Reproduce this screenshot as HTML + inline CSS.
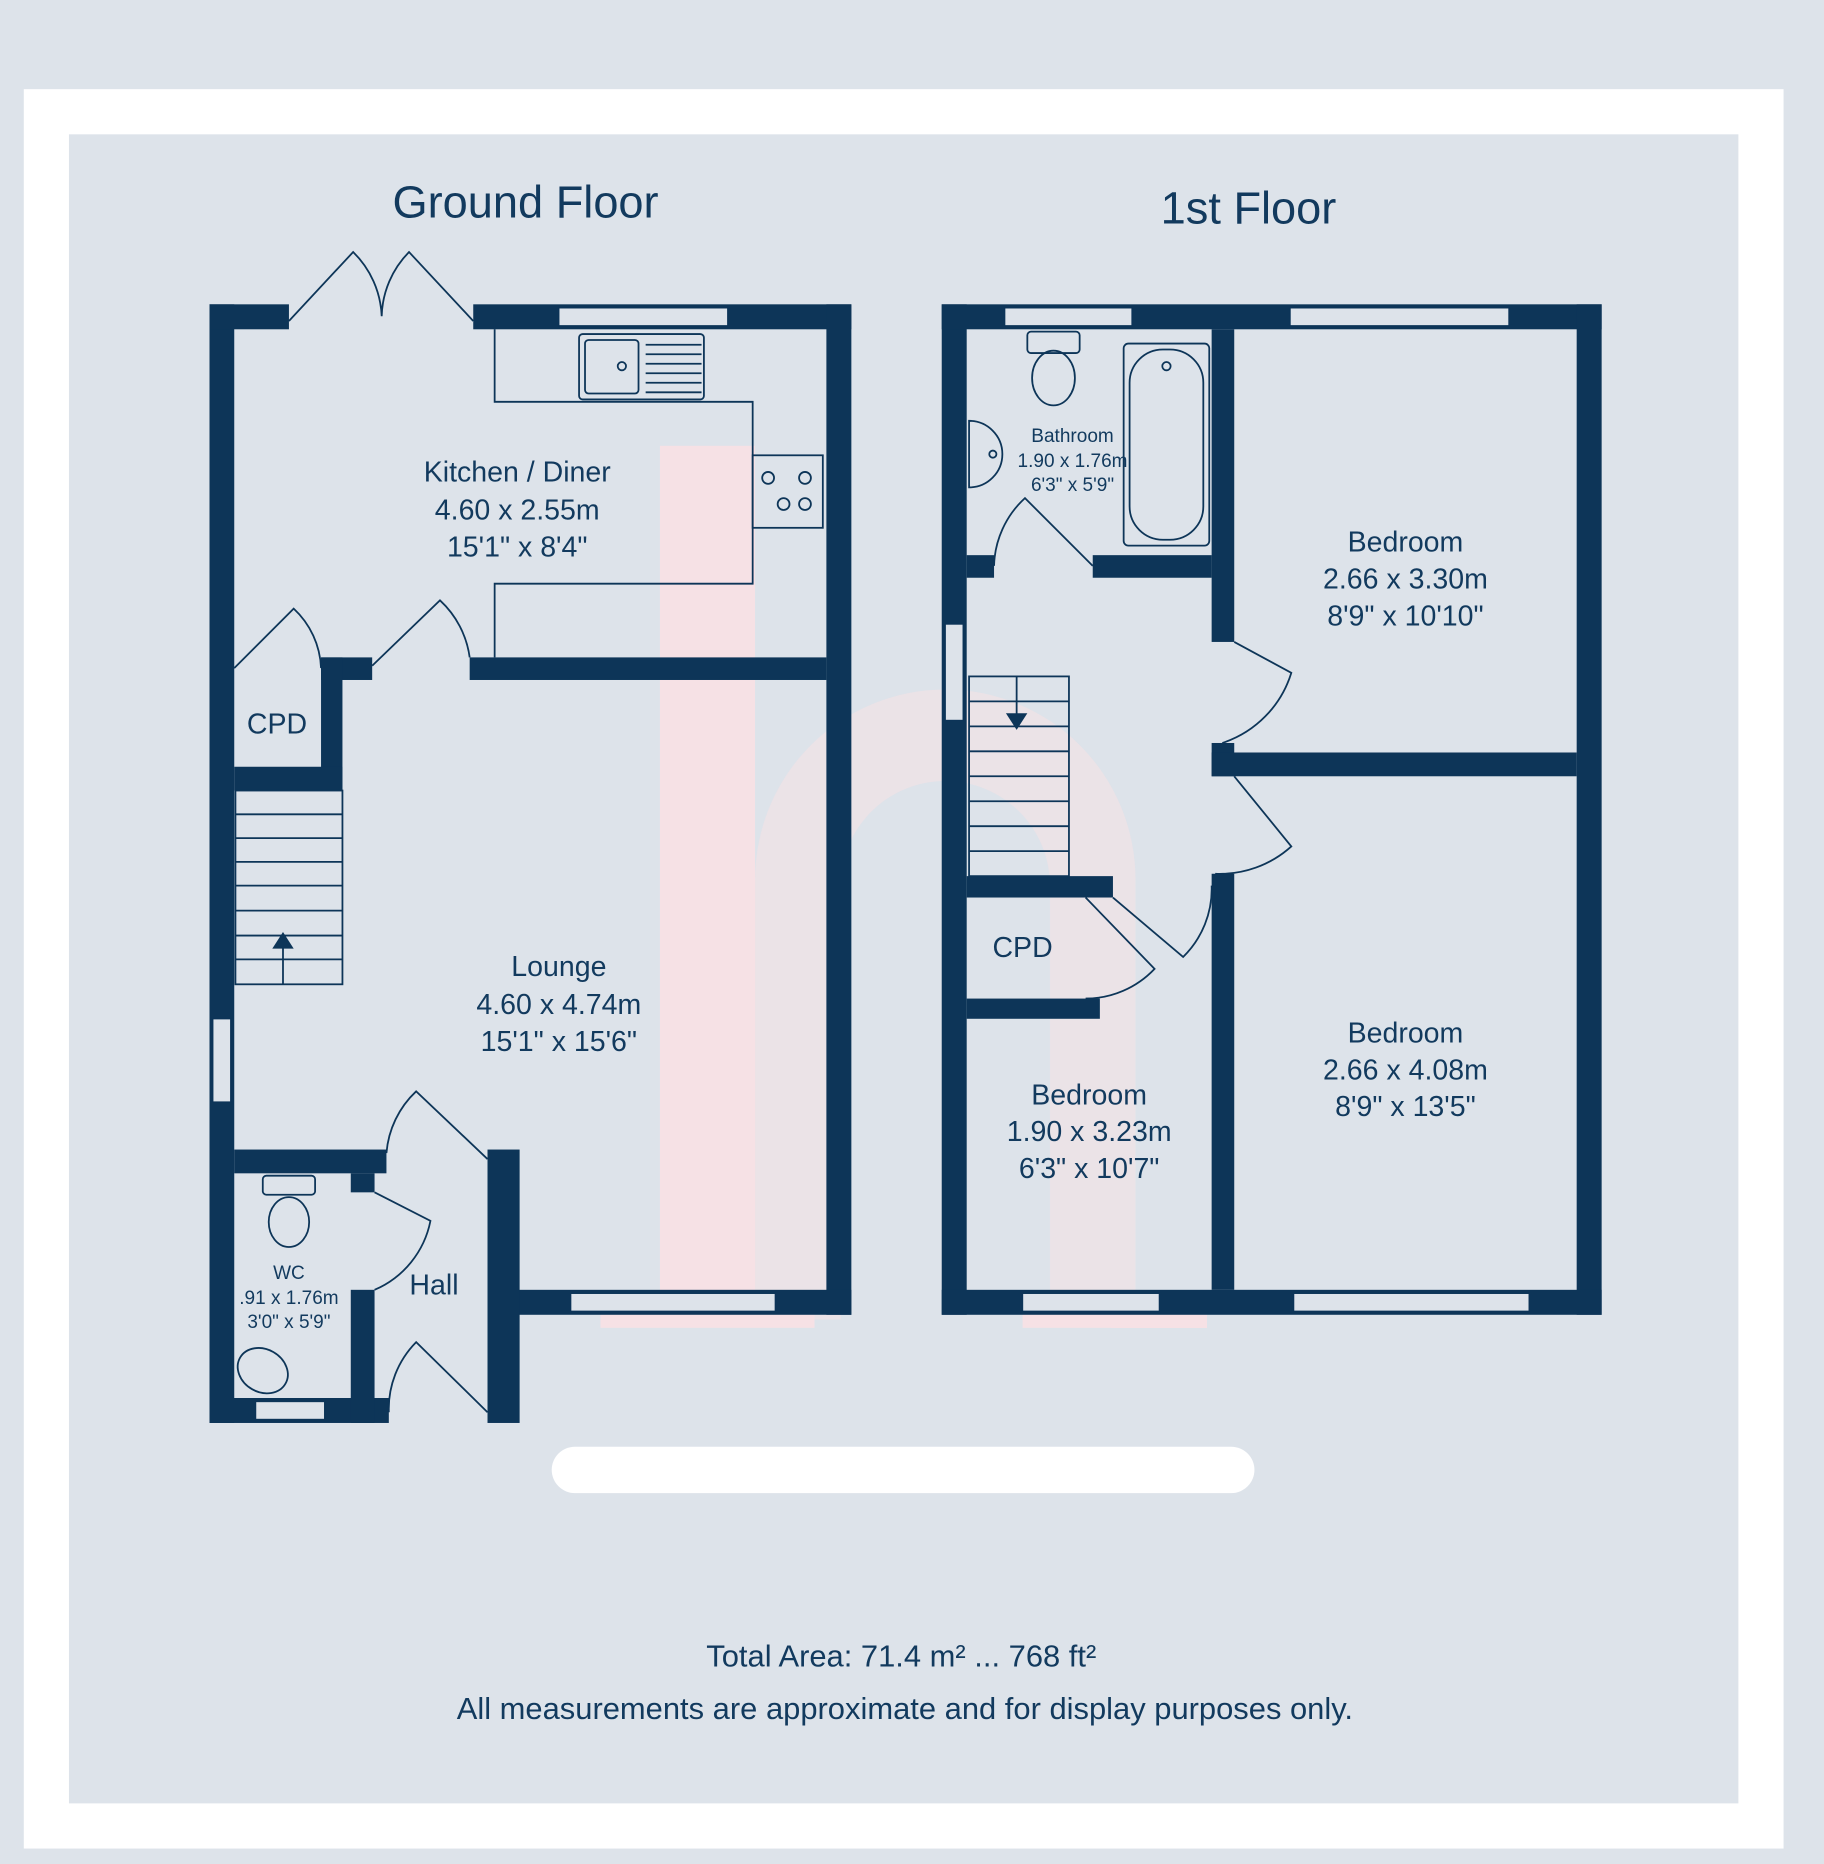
<!DOCTYPE html>
<html><head><meta charset="utf-8"><style>
html,body{margin:0;padding:0;background:#dde3ea}
svg{display:block}
text{font-family:"Liberation Sans",sans-serif;fill:#123a5e}
</style></head><body>
<svg width="1824" height="1864" viewBox="0 0 1534 1568" preserveAspectRatio="none" xmlns="http://www.w3.org/2000/svg">
<rect width="1534" height="1568" fill="#dde3ea"/>
<rect x="20" y="75" width="1480" height="1480" fill="#fff"/>
<rect x="58" y="113" width="1404" height="1404" fill="#dde3ea"/>
<!-- watermark -->
<g fill="#fbe1e4" opacity="0.85">
<rect x="555" y="375" width="80" height="735"/>
<path d="M635 740 A160 160 0 0 1 955 740 L955 1110 L883 1110 L883 745 A88 88 0 0 0 707 745 L707 1110 L635 1110 Z" opacity="0.55"/>
<rect x="505" y="1085" width="180" height="32"/>
<rect x="860" y="1085" width="155" height="32"/>
</g>
<text x="442" y="183" font-size="38" text-anchor="middle">Ground Floor</text>
<text x="1050" y="188" font-size="38" text-anchor="middle">1st Floor</text>
<g fill="#0d3558">
<rect x="176" y="256" width="21" height="941"/>
<rect x="176" y="256" width="67" height="21"/>
<rect x="398" y="256" width="318" height="21"/>
<rect x="695" y="256" width="21" height="850"/>
<rect x="433" y="1085" width="283" height="21"/>
<rect x="410" y="967" width="27" height="230"/>
<rect x="176" y="1176" width="151" height="21"/>
<rect x="395" y="553" width="300" height="19"/>
<rect x="270" y="553" width="43" height="19"/>
<rect x="270" y="553" width="18" height="112"/>
<rect x="197" y="645" width="91" height="20"/>
<rect x="197" y="967" width="128" height="20"/>
<rect x="295" y="987" width="20" height="16"/>
<rect x="295" y="1085" width="20" height="112"/>
<rect x="792" y="256" width="21" height="850"/>
<rect x="792" y="256" width="555" height="21"/>
<rect x="1326" y="256" width="21" height="850"/>
<rect x="792" y="1085" width="555" height="21"/>
<rect x="1019" y="277" width="19" height="263"/>
<rect x="1019" y="625" width="19" height="28"/>
<rect x="1019" y="735" width="19" height="350"/>
<rect x="1019" y="633" width="307" height="20"/>
<rect x="813" y="467" width="23" height="19"/>
<rect x="919" y="467" width="100" height="19"/>
<rect x="813" y="737" width="123" height="18"/>
<rect x="813" y="840" width="112" height="17"/>
</g>
<g fill="#dde3ea" stroke="#0d3558" stroke-width="1">
<rect x="470" y="259" width="142" height="15"/>
<rect x="480" y="1088" width="172" height="15"/>
<rect x="179" y="857" width="15" height="70"/>
<rect x="215" y="1179" width="58" height="15"/>
<rect x="845" y="259" width="107" height="15"/>
<rect x="1085" y="259" width="184" height="15"/>
<rect x="860" y="1088" width="115" height="15"/>
<rect x="1088" y="1088" width="198" height="15"/>
<rect x="795" y="525" width="15" height="81"/>
</g>
<g fill="none" stroke="#0d3558" stroke-width="1.5">
<path d="M416 277 V338 H633 V491 H416 V553"/>
<rect x="633" y="383" width="59" height="61"/>
<circle cx="646" cy="402" r="5"/><circle cx="677" cy="402" r="5"/>
<circle cx="659" cy="424" r="5"/><circle cx="677" cy="424" r="5"/>
<rect x="487" y="281" width="105" height="55" rx="3"/>
<rect x="492" y="286" width="45" height="45" rx="3"/>
<circle cx="523" cy="308" r="3.5"/>
<path d="M543 290H590M543 298H590M543 306H590M543 314H590M543 322H590M543 330H590"/>
<rect x="198" y="665" width="90" height="163"/>
<path d="M198 685H288M198 705H288M198 725H288M198 745H288M198 766H288M198 787H288M198 807H288"/>
<path d="M238 828V790"/>
<rect x="815" y="569" width="84" height="168"/>
<path d="M815 590H899M815 611H899M815 632H899M815 653H899M815 674H899M815 695H899M815 716H899"/>
<path d="M855 569V608"/>
<rect x="221" y="989" width="44" height="16" rx="3"/>
<ellipse cx="243" cy="1028" rx="17" ry="21"/>
<ellipse cx="221" cy="1153" rx="22" ry="18" transform="rotate(30 221 1153)"/>
<rect x="864" y="279" width="44" height="18" rx="3"/>
<ellipse cx="886" cy="318" rx="18" ry="23"/>
<rect x="945" y="289" width="72" height="170" rx="4"/>
<rect x="950" y="294" width="62" height="160" rx="28"/>
<circle cx="981" cy="308" r="3.5"/>
<path d="M815 354 A28 28 0 0 1 815 410 Z"/>
<circle cx="835" cy="382" r="3"/>
<path d="M243 270 L297 212 A80 80 0 0 1 321 266 M398 270 L344 212 A80 80 0 0 0 321 266"/>
<path d="M313 560 L370 505 A80 80 0 0 1 395 553"/>
<path d="M197 562 L247 512 A72 72 0 0 1 270 562"/>
<path d="M410 975 L350 918 A80 80 0 0 0 325 970"/>
<path d="M315 1003 L362 1027 A80 80 0 0 1 315 1085"/>
<path d="M410 1188 L350 1129 A80 80 0 0 0 327 1188"/>
<path d="M919 476 L862 419 A80 80 0 0 0 836 476"/>
<path d="M1038 540 L1086 566 A90 90 0 0 1 1028 625"/>
<path d="M1038 653 L1086 712 A90 90 0 0 1 1022 735"/>
<path d="M936 755 L995 805 A80 80 0 0 0 1019 745"/>
<path d="M913 755 L971 815 A80 80 0 0 1 913 840"/>
</g>
<g fill="#0d3558"><path d="M229 798 L238 784 L247 798Z"/><path d="M846 600 L855 614 L864 600Z"/></g>
<g font-size="24" text-anchor="middle">
<text x="435" y="405">Kitchen / Diner</text>
<text x="435" y="437">4.60 x 2.55m</text>
<text x="435" y="468">15'1" x 8'4"</text>
<text x="233" y="617">CPD</text>
<text x="470" y="821">Lounge</text>
<text x="470" y="853">4.60 x 4.74m</text>
<text x="470" y="884">15'1" x 15'6"</text>
<text x="365" y="1089">Hall</text>
<text x="860" y="805">CPD</text>
<text x="1182" y="464">Bedroom</text>
<text x="1182" y="495">2.66 x 3.30m</text>
<text x="1182" y="526">8'9" x 10'10"</text>
<text x="1182" y="877">Bedroom</text>
<text x="1182" y="908">2.66 x 4.08m</text>
<text x="1182" y="939">8'9" x 13'5"</text>
<text x="916" y="929">Bedroom</text>
<text x="916" y="960">1.90 x 3.23m</text>
<text x="916" y="991">6'3" x 10'7"</text>
</g>
<g font-size="16" text-anchor="middle">
<text x="243" y="1076">WC</text>
<text x="243" y="1097">.91 x 1.76m</text>
<text x="243" y="1117">3'0" x 5'9"</text>
<text x="902" y="372">Bathroom</text>
<text x="902" y="393">1.90 x 1.76m</text>
<text x="902" y="413">6'3" x 5'9"</text>
</g>
<rect x="464" y="1217" width="591" height="39" rx="19.5" fill="#fff"/>
<g font-size="26" text-anchor="middle">
<text x="758" y="1402">Total Area: 71.4 m² ... 768 ft²</text>
<text x="761" y="1446">All measurements are approximate and for display purposes only.</text>
</g>
</svg>
</body></html>
